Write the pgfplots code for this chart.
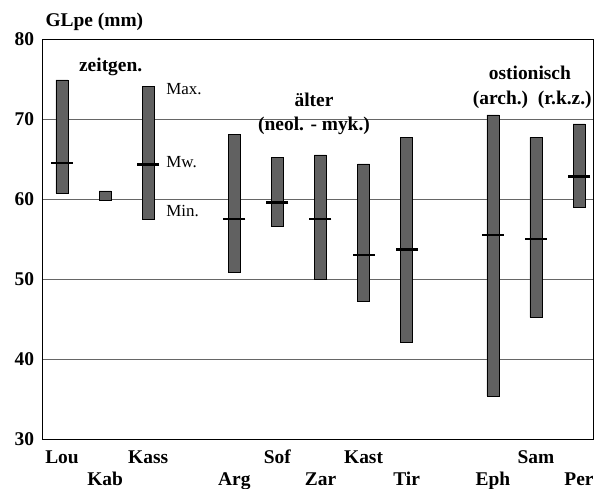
\documentclass[border=0pt]{standalone}
\usepackage{fontspec}
\setmainfont{Liberation Serif}
\usepackage{pgfplots}
\pgfplotsset{compat=1.18}
\usepackage{pgfplotstable}

\newcommand\lbl{\fontsize{19.5}{22}\selectfont\bfseries}
\newcommand\note{\fontsize{17}{20}\selectfont}

% GLpe: min, max, mean (Mw.) per site
\pgfplotstableread{
x  site  min   max   mean
0  Lou   60.7  74.9  64.5
1  Kab   59.8  61.0  nan
2  Kass  57.5  74.1  64.3
4  Arg   50.9  68.1  57.5
5  Sof   56.6  65.2  59.6
6  Zar   50.0  65.5  57.5
7  Kast  47.2  64.4  53.0
8  Tir   42.1  67.7  53.7
10 Eph   35.4  70.5  55.5
11 Sam   45.2  67.7  55.0
12 Per   59.0  69.4  62.8
}\glpe

\pgfplotsset{chartbox/.style={
    scale only axis, width=551bp, height=400bp,
    xmin=-0.464, xmax=12.325, ymin=30, ymax=80}}

\begin{document}
\begin{tikzpicture}
\path[use as bounding box] (-42bp,-50bp) rectangle (556bp,439bp);
\begin{axis}[
    chartbox,
    ybar stacked,
    bar width=12bp,
    axis line style={line width=1pt},
    ytick={30,40,...,80},
    ymajorgrids,
    grid style={black!60, line width=0.6pt},
    major tick length=0pt,
    xtick={0,2,5,7,11},
    xticklabels={Lou,Kass,Sof,Kast,Sam},
    extra x ticks={1,4,6,8,10,12},
    extra x tick labels={Kab,Arg,Zar,Tir,Eph,Per},
    extra x tick style={xticklabel style={yshift=-22bp}},
    ticklabel style={font=\lbl},
    xticklabel style={anchor=base, yshift=-24bp},
    yticklabel style={xshift=-4.5bp},
    /pgf/number format/assume math mode=true,
    ]
\addplot[draw=none, fill=none] table[x=x, y=min]{\glpe};
\addplot[fill=black!62, draw=black, line width=0.6pt]
    table[x=x, y expr=\thisrow{max}-\thisrow{min}]{\glpe};
\end{axis}

\begin{axis}[chartbox, hide axis, clip=false]
\addplot[only marks, mark=-, mark size=11bp,
    mark options={line width=2.8pt, black}]
    table[x=x, y=mean]{\glpe};
\node[anchor=base west, font=\lbl] at (axis cs:-0.464,81.6) {GLpe (mm)};
\node[anchor=base, font=\lbl] at (axis cs:1.13,75.9) {zeitgen.};
\node[anchor=base west, font=\note] at (axis cs:2.34,73.1) {Max.};
\node[anchor=base west, font=\note] at (axis cs:2.34,63.9) {Mw.};
\node[anchor=base west, font=\note] at (axis cs:2.34,57.75) {Min.};
\node[anchor=base, font=\lbl] at (axis cs:5.85,71.6) {älter};
\node[anchor=base, font=\lbl] at (axis cs:5.85,68.5) {(neol. - myk.)};
\node[anchor=base, font=\lbl] at (axis cs:10.86,74.9) {ostionisch};
\node[anchor=base, font=\lbl] at (axis cs:10.18,71.75) {(arch.)};
\node[anchor=base, font=\lbl] at (axis cs:11.67,71.75) {(r.k.z.)};
\end{axis}
\end{tikzpicture}
\end{document}
